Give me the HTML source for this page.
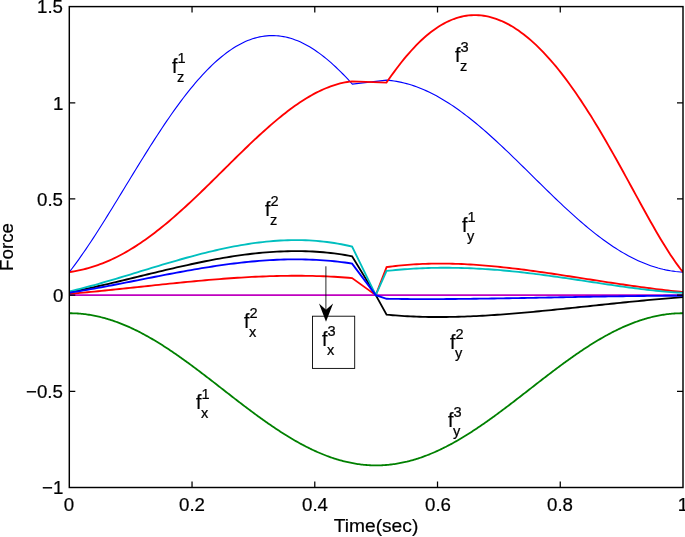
<!DOCTYPE html>
<html><head><meta charset="utf-8"><style>
html,body{margin:0;padding:0;background:#fff}
body{width:685px;height:537px;position:relative;overflow:hidden;font-family:"Liberation Sans",sans-serif;color:#000}
.t,.l{will-change:transform;-webkit-text-stroke:0.22px #000}
.t{position:absolute;font-size:18.7px;line-height:20px;white-space:nowrap}
.t.x{width:60px;text-align:center}
.l{position:absolute;font-size:19.6px;line-height:24px;white-space:nowrap;height:24px}
.l span{position:absolute;font-size:14.6px;line-height:24px;left:5.6px}
.l .p{top:-7.9px}
.l .b{top:11.0px;left:5.1px}
</style></head><body>
<svg width="685" height="537" viewBox="0 0 685 537" style="position:absolute;left:0;top:0">
<defs><clipPath id="c"><rect x="69.3" y="6.6" width="613.7" height="480.9"/></clipPath></defs>
<g clip-path="url(#c)" fill="none" stroke-linejoin="miter" stroke-miterlimit="3">
<path d="M69.30,313.22 L70.53,313.23 L71.75,313.25 L72.98,313.28 L74.21,313.32 L75.44,313.37 L76.66,313.44 L77.89,313.52 L79.12,313.61 L80.35,313.71 L81.57,313.82 L82.80,313.95 L84.03,314.09 L85.26,314.23 L86.48,314.40 L87.71,314.57 L88.94,314.75 L90.17,314.95 L91.39,315.16 L92.62,315.38 L93.85,315.61 L95.08,315.86 L96.30,316.11 L97.53,316.38 L98.76,316.66 L99.98,316.95 L101.21,317.25 L102.44,317.56 L103.67,317.88 L104.89,318.22 L106.12,318.56 L107.35,318.92 L108.58,319.29 L109.80,319.67 L111.03,320.06 L112.26,320.46 L113.49,320.87 L114.71,321.30 L115.94,321.73 L117.17,322.18 L118.40,322.63 L119.62,323.10 L120.85,323.57 L122.08,324.06 L123.31,324.56 L124.53,325.07 L125.76,325.58 L126.99,326.11 L128.22,326.65 L129.44,327.19 L130.67,327.75 L131.90,328.32 L133.12,328.89 L134.35,329.48 L135.58,330.08 L136.81,330.68 L138.03,331.29 L139.26,331.92 L140.49,332.55 L141.72,333.19 L142.94,333.84 L144.17,334.50 L145.40,335.17 L146.63,335.84 L147.85,336.53 L149.08,337.22 L150.31,337.92 L151.54,338.63 L152.76,339.35 L153.99,340.07 L155.22,340.81 L156.45,341.55 L157.67,342.29 L158.90,343.05 L160.13,343.81 L161.36,344.58 L162.58,345.36 L163.81,346.14 L165.04,346.93 L166.26,347.73 L167.49,348.54 L168.72,349.35 L169.95,350.16 L171.17,350.99 L172.40,351.81 L173.63,352.65 L174.86,353.49 L176.08,354.34 L177.31,355.19 L178.54,356.05 L179.77,356.91 L180.99,357.78 L182.22,358.65 L183.45,359.53 L184.68,360.41 L185.90,361.29 L187.13,362.18 L188.36,363.08 L189.59,363.98 L190.81,364.88 L192.04,365.79 L193.27,366.70 L194.49,367.62 L195.72,368.53 L196.95,369.46 L198.18,370.38 L199.40,371.31 L200.63,372.24 L201.86,373.17 L203.09,374.11 L204.31,375.04 L205.54,375.98 L206.77,376.93 L208.00,377.87 L209.22,378.82 L210.45,379.77 L211.68,380.71 L212.91,381.66 L214.13,382.62 L215.36,383.57 L216.59,384.52 L217.82,385.48 L219.04,386.43 L220.27,387.39 L221.50,388.34 L222.73,389.30 L223.95,390.26 L225.18,391.21 L226.41,392.17 L227.63,393.12 L228.86,394.08 L230.09,395.03 L231.32,395.98 L232.54,396.94 L233.77,397.89 L235.00,398.84 L236.23,399.78 L237.45,400.73 L238.68,401.67 L239.91,402.62 L241.14,403.56 L242.36,404.49 L243.59,405.43 L244.82,406.36 L246.05,407.29 L247.27,408.22 L248.50,409.14 L249.73,410.07 L250.96,410.98 L252.18,411.90 L253.41,412.81 L254.64,413.72 L255.86,414.62 L257.09,415.52 L258.32,416.42 L259.55,417.31 L260.77,418.19 L262.00,419.08 L263.23,419.95 L264.46,420.83 L265.68,421.69 L266.91,422.56 L268.14,423.41 L269.37,424.26 L270.59,425.11 L271.82,425.95 L273.05,426.79 L274.28,427.62 L275.50,428.44 L276.73,429.25 L277.96,430.07 L279.19,430.87 L280.41,431.67 L281.64,432.46 L282.87,433.24 L284.10,434.02 L285.32,434.79 L286.55,435.55 L287.78,436.31 L289.00,437.05 L290.23,437.79 L291.46,438.53 L292.69,439.25 L293.91,439.97 L295.14,440.68 L296.37,441.38 L297.60,442.07 L298.82,442.76 L300.05,443.43 L301.28,444.10 L302.51,444.76 L303.73,445.41 L304.96,446.05 L306.19,446.68 L307.42,447.31 L308.64,447.92 L309.87,448.52 L311.10,449.12 L312.33,449.71 L313.55,450.28 L314.78,450.85 L316.01,451.41 L317.23,451.95 L318.46,452.49 L319.69,453.02 L320.92,453.54 L322.14,454.04 L323.37,454.54 L324.60,455.03 L325.83,455.50 L327.05,455.97 L328.28,456.42 L329.51,456.87 L330.74,457.30 L331.96,457.73 L333.19,458.14 L334.42,458.54 L335.65,458.93 L336.87,459.31 L338.10,459.68 L339.33,460.04 L340.56,460.38 L341.78,460.72 L343.01,461.04 L344.24,461.35 L345.47,461.66 L346.69,461.94 L347.92,462.22 L349.15,462.49 L350.37,462.74 L351.60,462.99 L352.83,463.22 L354.06,463.44 L355.28,463.65 L356.51,463.85 L357.74,464.03 L358.97,464.20 L360.19,464.37 L361.42,464.52 L362.65,464.65 L363.88,464.78 L365.10,464.89 L366.33,464.99 L367.56,465.08 L368.79,465.16 L370.01,465.23 L371.24,465.28 L372.47,465.32 L373.70,465.35 L374.92,465.37 L376.15,465.38 L377.38,465.37 L378.60,465.35 L379.83,465.32 L381.06,465.28 L382.29,465.23 L383.51,465.16 L384.74,465.08 L385.97,464.99 L387.20,464.89 L388.42,464.78 L389.65,464.65 L390.88,464.52 L392.11,464.37 L393.33,464.20 L394.56,464.03 L395.79,463.85 L397.02,463.65 L398.24,463.44 L399.47,463.22 L400.70,462.99 L401.93,462.74 L403.15,462.49 L404.38,462.22 L405.61,461.94 L406.84,461.66 L408.06,461.35 L409.29,461.04 L410.52,460.72 L411.74,460.38 L412.97,460.04 L414.20,459.68 L415.43,459.31 L416.65,458.93 L417.88,458.54 L419.11,458.14 L420.34,457.73 L421.56,457.30 L422.79,456.87 L424.02,456.42 L425.25,455.97 L426.47,455.50 L427.70,455.03 L428.93,454.54 L430.16,454.04 L431.38,453.54 L432.61,453.02 L433.84,452.49 L435.07,451.95 L436.29,451.41 L437.52,450.85 L438.75,450.28 L439.97,449.71 L441.20,449.12 L442.43,448.52 L443.66,447.92 L444.88,447.31 L446.11,446.68 L447.34,446.05 L448.57,445.41 L449.79,444.76 L451.02,444.10 L452.25,443.43 L453.48,442.76 L454.70,442.07 L455.93,441.38 L457.16,440.68 L458.39,439.97 L459.61,439.25 L460.84,438.53 L462.07,437.79 L463.30,437.05 L464.52,436.31 L465.75,435.55 L466.98,434.79 L468.21,434.02 L469.43,433.24 L470.66,432.46 L471.89,431.67 L473.11,430.87 L474.34,430.07 L475.57,429.25 L476.80,428.44 L478.02,427.62 L479.25,426.79 L480.48,425.95 L481.71,425.11 L482.93,424.26 L484.16,423.41 L485.39,422.56 L486.62,421.69 L487.84,420.83 L489.07,419.95 L490.30,419.08 L491.53,418.19 L492.75,417.31 L493.98,416.42 L495.21,415.52 L496.44,414.62 L497.66,413.72 L498.89,412.81 L500.12,411.90 L501.34,410.98 L502.57,410.07 L503.80,409.14 L505.03,408.22 L506.25,407.29 L507.48,406.36 L508.71,405.43 L509.94,404.49 L511.16,403.56 L512.39,402.62 L513.62,401.67 L514.85,400.73 L516.07,399.78 L517.30,398.84 L518.53,397.89 L519.76,396.94 L520.98,395.98 L522.21,395.03 L523.44,394.08 L524.67,393.12 L525.89,392.17 L527.12,391.21 L528.35,390.26 L529.58,389.30 L530.80,388.34 L532.03,387.39 L533.26,386.43 L534.48,385.48 L535.71,384.52 L536.94,383.57 L538.17,382.62 L539.39,381.66 L540.62,380.71 L541.85,379.77 L543.08,378.82 L544.30,377.87 L545.53,376.93 L546.76,375.98 L547.99,375.04 L549.21,374.11 L550.44,373.17 L551.67,372.24 L552.90,371.31 L554.12,370.38 L555.35,369.46 L556.58,368.53 L557.81,367.62 L559.03,366.70 L560.26,365.79 L561.49,364.88 L562.71,363.98 L563.94,363.08 L565.17,362.18 L566.40,361.29 L567.62,360.41 L568.85,359.53 L570.08,358.65 L571.31,357.78 L572.53,356.91 L573.76,356.05 L574.99,355.19 L576.22,354.34 L577.44,353.49 L578.67,352.65 L579.90,351.81 L581.13,350.99 L582.35,350.16 L583.58,349.35 L584.81,348.54 L586.04,347.73 L587.26,346.93 L588.49,346.14 L589.72,345.36 L590.94,344.58 L592.17,343.81 L593.40,343.05 L594.63,342.29 L595.85,341.55 L597.08,340.81 L598.31,340.07 L599.54,339.35 L600.76,338.63 L601.99,337.92 L603.22,337.22 L604.45,336.53 L605.67,335.84 L606.90,335.17 L608.13,334.50 L609.36,333.84 L610.58,333.19 L611.81,332.55 L613.04,331.92 L614.27,331.29 L615.49,330.68 L616.72,330.08 L617.95,329.48 L619.18,328.89 L620.40,328.32 L621.63,327.75 L622.86,327.19 L624.08,326.65 L625.31,326.11 L626.54,325.58 L627.77,325.07 L628.99,324.56 L630.22,324.06 L631.45,323.57 L632.68,323.10 L633.90,322.63 L635.13,322.18 L636.36,321.73 L637.59,321.30 L638.81,320.87 L640.04,320.46 L641.27,320.06 L642.50,319.67 L643.72,319.29 L644.95,318.92 L646.18,318.56 L647.41,318.22 L648.63,317.88 L649.86,317.56 L651.09,317.25 L652.32,316.95 L653.54,316.66 L654.77,316.38 L656.00,316.11 L657.22,315.86 L658.45,315.61 L659.68,315.38 L660.91,315.16 L662.13,314.95 L663.36,314.75 L664.59,314.57 L665.82,314.40 L667.04,314.23 L668.27,314.09 L669.50,313.95 L670.73,313.82 L671.95,313.71 L673.18,313.61 L674.41,313.52 L675.64,313.44 L676.86,313.37 L678.09,313.32 L679.32,313.28 L680.55,313.25 L681.77,313.23 L683.00,313.22" stroke="#008000" stroke-width="1.8"/>
<path d="M69.30,293.85 L72.88,293.55 L76.46,293.24 L80.04,292.92 L83.62,292.60 L87.20,292.26 L90.78,291.92 L94.36,291.58 L97.94,291.23 L101.52,290.87 L105.10,290.51 L108.68,290.14 L112.26,289.77 L115.84,289.40 L119.42,289.02 L122.99,288.64 L126.57,288.26 L130.15,287.88 L133.73,287.49 L137.31,287.11 L140.89,286.72 L144.47,286.34 L148.05,285.96 L151.63,285.57 L155.21,285.19 L158.79,284.81 L162.37,284.43 L165.95,284.06 L169.53,283.69 L173.11,283.32 L176.69,282.96 L180.27,282.60 L183.85,282.24 L187.43,281.89 L191.01,281.55 L194.59,281.21 L198.17,280.88 L201.75,280.55 L205.33,280.24 L208.91,279.93 L212.49,279.63 L216.07,279.33 L219.65,279.05 L223.23,278.77 L226.80,278.51 L230.38,278.25 L233.96,278.00 L237.54,277.77 L241.12,277.55 L244.70,277.33 L248.28,277.13 L251.86,276.95 L255.44,276.77 L259.02,276.61 L262.60,276.46 L266.18,276.32 L269.76,276.20 L273.34,276.09 L276.92,276.00 L280.50,275.92 L284.08,275.86 L287.66,275.81 L291.24,275.78 L294.82,275.77 L298.40,275.77 L301.98,275.79 L305.56,275.83 L309.14,275.88 L312.72,275.95 L316.30,276.05 L319.88,276.16 L323.46,276.29 L327.04,276.43 L330.62,276.60 L334.19,276.79 L337.77,277.00 L341.35,277.23 L344.93,277.48 L348.51,277.75 L352.09,278.04 L375.78,295.14 L386.58,267.19 L389.58,266.77 L392.57,266.39 L395.57,266.02 L398.56,265.69 L401.55,265.38 L404.55,265.10 L407.54,264.84 L410.54,264.61 L413.53,264.41 L416.52,264.22 L419.52,264.06 L422.51,263.93 L425.51,263.81 L428.50,263.72 L431.49,263.65 L434.49,263.60 L437.48,263.58 L440.48,263.57 L443.47,263.58 L446.47,263.61 L449.46,263.66 L452.45,263.73 L455.45,263.82 L458.44,263.92 L461.44,264.04 L464.43,264.18 L467.42,264.34 L470.42,264.51 L473.41,264.69 L476.41,264.89 L479.40,265.11 L482.39,265.34 L485.39,265.58 L488.38,265.84 L491.38,266.11 L494.37,266.39 L497.37,266.68 L500.36,266.99 L503.35,267.30 L506.35,267.63 L509.34,267.97 L512.34,268.31 L515.33,268.67 L518.32,269.04 L521.32,269.41 L524.31,269.79 L527.31,270.18 L530.30,270.58 L533.29,270.99 L536.29,271.40 L539.28,271.82 L542.28,272.24 L545.27,272.67 L548.26,273.10 L551.26,273.54 L554.25,273.99 L557.25,274.43 L560.24,274.89 L563.24,275.34 L566.23,275.80 L569.22,276.26 L572.22,276.72 L575.21,277.18 L578.21,277.65 L581.20,278.11 L584.19,278.58 L587.19,279.05 L590.18,279.51 L593.18,279.98 L596.17,280.45 L599.16,280.91 L602.16,281.37 L605.15,281.83 L608.15,282.29 L611.14,282.75 L614.14,283.20 L617.13,283.65 L620.12,284.10 L623.12,284.54 L626.11,284.98 L629.11,285.41 L632.10,285.84 L635.09,286.26 L638.09,286.68 L641.08,287.09 L644.08,287.50 L647.07,287.90 L650.06,288.29 L653.06,288.68 L656.05,289.05 L659.05,289.42 L662.04,289.79 L665.04,290.14 L668.03,290.48 L671.02,290.82 L674.02,291.14 L677.01,291.46 L680.01,291.77 L683.00,292.06" stroke="#ff0000" stroke-width="1.85"/>
<path d="M69.30,272.06 L71.68,268.97 L74.06,265.82 L76.44,262.59 L78.82,259.30 L81.19,255.94 L83.57,252.53 L85.95,249.06 L88.33,245.54 L90.71,241.97 L93.09,238.35 L95.47,234.69 L97.85,231.00 L100.23,227.27 L102.61,223.51 L104.98,219.72 L107.36,215.90 L109.74,212.06 L112.12,208.20 L114.50,204.33 L116.88,200.44 L119.26,196.55 L121.64,192.64 L124.02,188.74 L126.40,184.83 L128.77,180.92 L131.15,177.02 L133.53,173.13 L135.91,169.25 L138.29,165.38 L140.67,161.52 L143.05,157.69 L145.43,153.87 L147.81,150.08 L150.19,146.32 L152.56,142.58 L154.94,138.88 L157.32,135.21 L159.70,131.58 L162.08,127.99 L164.46,124.43 L166.84,120.92 L169.22,117.46 L171.60,114.04 L173.98,110.68 L176.35,107.36 L178.73,104.10 L181.11,100.90 L183.49,97.75 L185.87,94.67 L188.25,91.64 L190.63,88.68 L193.01,85.79 L195.39,82.96 L197.77,80.20 L200.14,77.51 L202.52,74.89 L204.90,72.35 L207.28,69.88 L209.66,67.49 L212.04,65.18 L214.42,62.94 L216.80,60.79 L219.18,58.72 L221.56,56.73 L223.93,54.82 L226.31,53.00 L228.69,51.27 L231.07,49.62 L233.45,48.06 L235.83,46.59 L238.21,45.21 L240.59,43.92 L242.97,42.72 L245.35,41.61 L247.72,40.59 L250.10,39.67 L252.48,38.84 L254.86,38.10 L257.24,37.46 L259.62,36.91 L262.00,36.45 L264.38,36.09 L266.76,35.82 L269.14,35.65 L271.51,35.57 L273.89,35.58 L276.27,35.69 L278.65,35.90 L281.03,36.19 L283.41,36.58 L285.79,37.06 L288.17,37.64 L290.55,38.30 L292.93,39.06 L295.30,39.90 L297.68,40.84 L300.06,41.86 L302.44,42.97 L304.82,44.17 L307.20,45.45 L309.58,46.82 L311.96,48.27 L314.34,49.80 L316.71,51.42 L319.09,53.11 L321.47,54.88 L323.85,56.72 L326.23,58.64 L328.61,60.63 L330.99,62.70 L333.37,64.83 L335.75,67.03 L338.13,69.29 L340.50,71.62 L342.88,74.01 L345.26,76.45 L347.64,78.96 L350.02,81.51 L352.40,84.12 L386.58,80.08 L389.07,80.32 L391.56,80.61 L394.06,80.96 L396.55,81.37 L399.04,81.84 L401.53,82.37 L404.02,82.96 L406.51,83.61 L409.00,84.32 L411.49,85.08 L413.98,85.90 L416.47,86.79 L418.96,87.72 L421.46,88.72 L423.95,89.77 L426.44,90.88 L428.93,92.04 L431.42,93.26 L433.91,94.53 L436.40,95.86 L438.89,97.24 L441.38,98.67 L443.87,100.15 L446.36,101.68 L448.86,103.26 L451.35,104.88 L453.84,106.56 L456.33,108.28 L458.82,110.04 L461.31,111.85 L463.80,113.70 L466.29,115.59 L468.78,117.52 L471.27,119.49 L473.76,121.50 L476.26,123.54 L478.75,125.62 L481.24,127.73 L483.73,129.87 L486.22,132.04 L488.71,134.24 L491.20,136.47 L493.69,138.73 L496.18,141.01 L498.67,143.31 L501.16,145.64 L503.66,147.98 L506.15,150.34 L508.64,152.72 L511.13,155.12 L513.62,157.53 L516.11,159.95 L518.60,162.38 L521.09,164.82 L523.58,167.26 L526.07,169.72 L528.56,172.17 L531.06,174.63 L533.55,177.09 L536.04,179.55 L538.53,182.00 L541.02,184.45 L543.51,186.90 L546.00,189.34 L548.49,191.76 L550.98,194.18 L553.47,196.59 L555.96,198.98 L558.46,201.35 L560.95,203.71 L563.44,206.05 L565.93,208.37 L568.42,210.67 L570.91,212.94 L573.40,215.19 L575.89,217.41 L578.38,219.61 L580.87,221.78 L583.36,223.91 L585.85,226.02 L588.35,228.09 L590.84,230.12 L593.33,232.12 L595.82,234.09 L598.31,236.01 L600.80,237.90 L603.29,239.74 L605.78,241.54 L608.27,243.30 L610.76,245.02 L613.25,246.68 L615.75,248.31 L618.24,249.88 L620.73,251.41 L623.22,252.89 L625.71,254.32 L628.20,255.69 L630.69,257.02 L633.18,258.29 L635.67,259.51 L638.16,260.68 L640.65,261.79 L643.15,262.85 L645.64,263.85 L648.13,264.80 L650.62,265.69 L653.11,266.52 L655.60,267.30 L658.09,268.02 L660.58,268.68 L663.07,269.29 L665.56,269.84 L668.05,270.33 L670.55,270.77 L673.04,271.14 L675.53,271.47 L678.02,271.73 L680.51,271.94 L683.00,272.10" stroke="#0000ff" stroke-width="1.12"/>
<path d="M69.30,295.14 L683.00,295.14" stroke="#bf00bf" stroke-width="1.8"/>
<path d="M69.30,292.22 L72.88,291.53 L76.46,290.82 L80.04,290.10 L83.62,289.36 L87.20,288.60 L90.78,287.83 L94.36,287.04 L97.94,286.24 L101.52,285.43 L105.10,284.61 L108.68,283.78 L112.26,282.94 L115.84,282.09 L119.42,281.23 L122.99,280.37 L126.57,279.50 L130.15,278.63 L133.73,277.76 L137.31,276.89 L140.89,276.01 L144.47,275.14 L148.05,274.27 L151.63,273.40 L155.21,272.53 L158.79,271.67 L162.37,270.81 L165.95,269.96 L169.53,269.11 L173.11,268.28 L176.69,267.45 L180.27,266.63 L183.85,265.83 L187.43,265.03 L191.01,264.25 L194.59,263.48 L198.17,262.73 L201.75,261.99 L205.33,261.27 L208.91,260.57 L212.49,259.88 L216.07,259.21 L219.65,258.57 L223.23,257.94 L226.80,257.34 L230.38,256.75 L233.96,256.20 L237.54,255.66 L241.12,255.15 L244.70,254.67 L248.28,254.22 L251.86,253.79 L255.44,253.39 L259.02,253.02 L262.60,252.68 L266.18,252.37 L269.76,252.09 L273.34,251.85 L276.92,251.64 L280.50,251.46 L284.08,251.32 L287.66,251.21 L291.24,251.14 L294.82,251.11 L298.40,251.12 L301.98,251.16 L305.56,251.25 L309.14,251.37 L312.72,251.54 L316.30,251.74 L319.88,251.99 L323.46,252.29 L327.04,252.63 L330.62,253.01 L334.19,253.44 L337.77,253.91 L341.35,254.43 L344.93,255.00 L348.51,255.62 L352.09,256.28 L375.78,295.14 L386.58,314.66 L389.58,314.95 L392.57,315.21 L395.57,315.45 L398.56,315.68 L401.55,315.88 L404.55,316.07 L407.54,316.24 L410.54,316.40 L413.53,316.53 L416.52,316.65 L419.52,316.75 L422.51,316.84 L425.51,316.91 L428.50,316.96 L431.49,317.00 L434.49,317.03 L437.48,317.04 L440.48,317.04 L443.47,317.02 L446.47,316.99 L449.46,316.95 L452.45,316.90 L455.45,316.83 L458.44,316.75 L461.44,316.66 L464.43,316.56 L467.42,316.45 L470.42,316.32 L473.41,316.19 L476.41,316.05 L479.40,315.89 L482.39,315.73 L485.39,315.56 L488.38,315.38 L491.38,315.19 L494.37,314.99 L497.37,314.79 L500.36,314.57 L503.35,314.35 L506.35,314.13 L509.34,313.89 L512.34,313.65 L515.33,313.41 L518.32,313.15 L521.32,312.89 L524.31,312.63 L527.31,312.36 L530.30,312.09 L533.29,311.81 L536.29,311.53 L539.28,311.24 L542.28,310.95 L545.27,310.66 L548.26,310.36 L551.26,310.06 L554.25,309.76 L557.25,309.45 L560.24,309.15 L563.24,308.84 L566.23,308.52 L569.22,308.21 L572.22,307.90 L575.21,307.58 L578.21,307.26 L581.20,306.95 L584.19,306.63 L587.19,306.31 L590.18,305.99 L593.18,305.67 L596.17,305.35 L599.16,305.04 L602.16,304.72 L605.15,304.41 L608.15,304.09 L611.14,303.78 L614.14,303.47 L617.13,303.16 L620.12,302.85 L623.12,302.54 L626.11,302.24 L629.11,301.94 L632.10,301.64 L635.09,301.35 L638.09,301.05 L641.08,300.76 L644.08,300.48 L647.07,300.20 L650.06,299.92 L653.06,299.64 L656.05,299.37 L659.05,299.11 L662.04,298.84 L665.04,298.59 L668.03,298.33 L671.02,298.08 L674.02,297.84 L677.01,297.60 L680.01,297.37 L683.00,297.14" stroke="#000000" stroke-width="1.85"/>
<path d="M69.30,291.49 L72.88,290.63 L76.46,289.75 L80.04,288.84 L83.62,287.91 L87.20,286.97 L90.78,286.00 L94.36,285.02 L97.94,284.02 L101.52,283.00 L105.10,281.98 L108.68,280.94 L112.26,279.88 L115.84,278.82 L119.42,277.75 L122.99,276.68 L126.57,275.60 L130.15,274.51 L133.73,273.42 L137.31,272.33 L140.89,271.23 L144.47,270.14 L148.05,269.05 L151.63,267.96 L155.21,266.88 L158.79,265.80 L162.37,264.73 L165.95,263.66 L169.53,262.61 L173.11,261.56 L176.69,260.53 L180.27,259.51 L183.85,258.50 L187.43,257.50 L191.01,256.53 L194.59,255.57 L198.17,254.63 L201.75,253.70 L205.33,252.80 L208.91,251.92 L212.49,251.06 L216.07,250.23 L219.65,249.42 L223.23,248.64 L226.80,247.89 L230.38,247.16 L233.96,246.46 L237.54,245.79 L241.12,245.16 L244.70,244.55 L248.28,243.99 L251.86,243.45 L255.44,242.95 L259.02,242.49 L262.60,242.06 L266.18,241.68 L269.76,241.33 L273.34,241.03 L276.92,240.76 L280.50,240.54 L284.08,240.36 L287.66,240.23 L291.24,240.14 L294.82,240.10 L298.40,240.11 L301.98,240.17 L305.56,240.27 L309.14,240.43 L312.72,240.64 L316.30,240.90 L319.88,241.21 L323.46,241.58 L327.04,242.00 L330.62,242.48 L334.19,243.01 L337.77,243.60 L341.35,244.25 L344.93,244.97 L348.51,245.74 L352.09,246.57 L375.78,295.14 L386.58,270.90 L389.58,270.59 L392.57,270.30 L395.57,270.02 L398.56,269.76 L401.55,269.51 L404.55,269.28 L407.54,269.07 L410.54,268.87 L413.53,268.69 L416.52,268.52 L419.52,268.38 L422.51,268.24 L425.51,268.13 L428.50,268.03 L431.49,267.94 L434.49,267.88 L437.48,267.82 L440.48,267.79 L443.47,267.77 L446.47,267.76 L449.46,267.78 L452.45,267.80 L455.45,267.84 L458.44,267.90 L461.44,267.97 L464.43,268.06 L467.42,268.16 L470.42,268.28 L473.41,268.41 L476.41,268.55 L479.40,268.71 L482.39,268.88 L485.39,269.07 L488.38,269.27 L491.38,269.48 L494.37,269.71 L497.37,269.95 L500.36,270.20 L503.35,270.46 L506.35,270.73 L509.34,271.02 L512.34,271.32 L515.33,271.62 L518.32,271.94 L521.32,272.27 L524.31,272.61 L527.31,272.96 L530.30,273.32 L533.29,273.68 L536.29,274.06 L539.28,274.44 L542.28,274.83 L545.27,275.23 L548.26,275.64 L551.26,276.05 L554.25,276.47 L557.25,276.89 L560.24,277.32 L563.24,277.75 L566.23,278.19 L569.22,278.63 L572.22,279.08 L575.21,279.53 L578.21,279.98 L581.20,280.43 L584.19,280.89 L587.19,281.34 L590.18,281.80 L593.18,282.25 L596.17,282.71 L599.16,283.16 L602.16,283.61 L605.15,284.06 L608.15,284.51 L611.14,284.95 L614.14,285.39 L617.13,285.82 L620.12,286.25 L623.12,286.68 L626.11,287.09 L629.11,287.50 L632.10,287.90 L635.09,288.29 L638.09,288.68 L641.08,289.05 L644.08,289.41 L647.07,289.76 L650.06,290.10 L653.06,290.43 L656.05,290.74 L659.05,291.04 L662.04,291.33 L665.04,291.59 L668.03,291.85 L671.02,292.08 L674.02,292.30 L677.01,292.50 L680.01,292.67 L683.00,292.83" stroke="#00bfbf" stroke-width="1.85"/>
<path d="M69.30,292.76 L72.88,292.21 L76.46,291.63 L80.04,291.05 L83.62,290.44 L87.20,289.83 L90.78,289.20 L94.36,288.56 L97.94,287.91 L101.52,287.25 L105.10,286.58 L108.68,285.91 L112.26,285.22 L115.84,284.53 L119.42,283.84 L122.99,283.14 L126.57,282.44 L130.15,281.73 L133.73,281.02 L137.31,280.31 L140.89,279.60 L144.47,278.89 L148.05,278.18 L151.63,277.47 L155.21,276.77 L158.79,276.07 L162.37,275.37 L165.95,274.68 L169.53,273.99 L173.11,273.31 L176.69,272.64 L180.27,271.98 L183.85,271.32 L187.43,270.68 L191.01,270.04 L194.59,269.42 L198.17,268.81 L201.75,268.21 L205.33,267.62 L208.91,267.05 L212.49,266.49 L216.07,265.95 L219.65,265.42 L223.23,264.92 L226.80,264.42 L230.38,263.95 L233.96,263.50 L237.54,263.06 L241.12,262.65 L244.70,262.26 L248.28,261.89 L251.86,261.54 L255.44,261.22 L259.02,260.92 L262.60,260.64 L266.18,260.39 L269.76,260.16 L273.34,259.97 L276.92,259.79 L280.50,259.65 L284.08,259.54 L287.66,259.45 L291.24,259.39 L294.82,259.37 L298.40,259.37 L301.98,259.41 L305.56,259.48 L309.14,259.58 L312.72,259.71 L316.30,259.88 L319.88,260.08 L323.46,260.32 L327.04,260.60 L330.62,260.91 L334.19,261.26 L337.77,261.64 L341.35,262.06 L344.93,262.53 L348.51,263.03 L352.09,263.57 L375.78,295.14 L386.58,298.79 L389.58,298.84 L392.57,298.88 L395.57,298.92 L398.56,298.95 L401.55,298.98 L404.55,299.01 L407.54,299.03 L410.54,299.05 L413.53,299.06 L416.52,299.08 L419.52,299.08 L422.51,299.09 L425.51,299.09 L428.50,299.09 L431.49,299.09 L434.49,299.08 L437.48,299.07 L440.48,299.06 L443.47,299.05 L446.47,299.03 L449.46,299.01 L452.45,298.99 L455.45,298.97 L458.44,298.94 L461.44,298.91 L464.43,298.88 L467.42,298.85 L470.42,298.81 L473.41,298.78 L476.41,298.74 L479.40,298.70 L482.39,298.66 L485.39,298.62 L488.38,298.58 L491.38,298.53 L494.37,298.49 L497.37,298.44 L500.36,298.39 L503.35,298.34 L506.35,298.29 L509.34,298.24 L512.34,298.19 L515.33,298.13 L518.32,298.08 L521.32,298.02 L524.31,297.97 L527.31,297.91 L530.30,297.86 L533.29,297.80 L536.29,297.74 L539.28,297.69 L542.28,297.63 L545.27,297.57 L548.26,297.51 L551.26,297.46 L554.25,297.40 L557.25,297.34 L560.24,297.29 L563.24,297.23 L566.23,297.17 L569.22,297.12 L572.22,297.06 L575.21,297.00 L578.21,296.95 L581.20,296.89 L584.19,296.84 L587.19,296.79 L590.18,296.73 L593.18,296.68 L596.17,296.63 L599.16,296.58 L602.16,296.53 L605.15,296.48 L608.15,296.44 L611.14,296.39 L614.14,296.35 L617.13,296.30 L620.12,296.26 L623.12,296.22 L626.11,296.18 L629.11,296.14 L632.10,296.10 L635.09,296.07 L638.09,296.03 L641.08,296.00 L644.08,295.97 L647.07,295.94 L650.06,295.91 L653.06,295.88 L656.05,295.86 L659.05,295.83 L662.04,295.81 L665.04,295.79 L668.03,295.78 L671.02,295.76 L674.02,295.75 L677.01,295.73 L680.01,295.72 L683.00,295.72" stroke="#0000ff" stroke-width="1.85"/>
<path d="M69.30,272.06 L71.68,271.71 L74.05,271.32 L76.43,270.89 L78.80,270.42 L81.18,269.90 L83.55,269.35 L85.93,268.75 L88.30,268.11 L90.68,267.42 L93.05,266.69 L95.43,265.92 L97.80,265.10 L100.18,264.24 L102.56,263.33 L104.93,262.38 L107.31,261.39 L109.68,260.35 L112.06,259.27 L114.43,258.15 L116.81,256.98 L119.18,255.76 L121.56,254.51 L123.93,253.21 L126.31,251.87 L128.68,250.49 L131.06,249.07 L133.44,247.60 L135.81,246.10 L138.19,244.56 L140.56,242.97 L142.94,241.35 L145.31,239.69 L147.69,237.99 L150.06,236.26 L152.44,234.49 L154.81,232.69 L157.19,230.85 L159.56,228.98 L161.94,227.08 L164.32,225.14 L166.69,223.18 L169.07,221.18 L171.44,219.16 L173.82,217.11 L176.19,215.03 L178.57,212.93 L180.94,210.80 L183.32,208.65 L185.69,206.48 L188.07,204.29 L190.44,202.08 L192.82,199.84 L195.20,197.60 L197.57,195.33 L199.95,193.05 L202.32,190.76 L204.70,188.46 L207.07,186.14 L209.45,183.82 L211.82,181.48 L214.20,179.15 L216.57,176.80 L218.95,174.45 L221.32,172.10 L223.70,169.75 L226.08,167.39 L228.45,165.04 L230.83,162.69 L233.20,160.35 L235.58,158.01 L237.95,155.68 L240.33,153.36 L242.70,151.05 L245.08,148.75 L247.45,146.46 L249.83,144.19 L252.20,141.94 L254.58,139.70 L256.96,137.48 L259.33,135.28 L261.71,133.11 L264.08,130.96 L266.46,128.83 L268.83,126.73 L271.21,124.66 L273.58,122.62 L275.96,120.61 L278.33,118.64 L280.71,116.69 L283.08,114.79 L285.46,112.92 L287.83,111.09 L290.21,109.30 L292.59,107.55 L294.96,105.84 L297.34,104.18 L299.71,102.57 L302.09,101.00 L304.46,99.48 L306.84,98.01 L309.21,96.60 L311.59,95.23 L313.96,93.92 L316.34,92.67 L318.71,91.47 L321.09,90.33 L323.47,89.25 L325.84,88.23 L328.22,87.28 L330.59,86.38 L332.97,85.55 L335.34,84.79 L337.72,84.10 L340.09,83.47 L342.47,82.91 L344.84,82.42 L347.22,82.00 L349.59,81.66 L351.97,81.39 L386.46,82.64 L388.95,79.05 L391.44,75.54 L393.94,72.10 L396.43,68.74 L398.92,65.47 L401.41,62.29 L403.90,59.20 L406.40,56.20 L408.89,53.30 L411.38,50.49 L413.87,47.79 L416.36,45.18 L418.86,42.68 L421.35,40.28 L423.84,37.99 L426.33,35.81 L428.82,33.73 L431.31,31.77 L433.81,29.91 L436.30,28.16 L438.79,26.52 L441.28,24.99 L443.77,23.58 L446.27,22.27 L448.76,21.07 L451.25,19.99 L453.74,19.01 L456.23,18.14 L458.73,17.39 L461.22,16.74 L463.71,16.20 L466.20,15.77 L468.69,15.45 L471.19,15.24 L473.68,15.13 L476.17,15.13 L478.66,15.23 L481.15,15.44 L483.65,15.75 L486.14,16.17 L488.63,16.69 L491.12,17.30 L493.61,18.03 L496.11,18.85 L498.60,19.77 L501.09,20.78 L503.58,21.90 L506.07,23.11 L508.56,24.42 L511.06,25.83 L513.55,27.33 L516.04,28.92 L518.53,30.60 L521.02,32.38 L523.52,34.25 L526.01,36.21 L528.50,38.26 L530.99,40.39 L533.48,42.62 L535.98,44.93 L538.47,47.33 L540.96,49.81 L543.45,52.38 L545.94,55.03 L548.44,57.76 L550.93,60.58 L553.42,63.48 L555.91,66.45 L558.40,69.51 L560.90,72.64 L563.39,75.85 L565.88,79.14 L568.37,82.50 L570.86,85.93 L573.36,89.43 L575.85,93.01 L578.34,96.65 L580.83,100.36 L583.32,104.14 L585.81,107.98 L588.31,111.89 L590.80,115.85 L593.29,119.87 L595.78,123.95 L598.27,128.09 L600.77,132.27 L603.26,136.51 L605.75,140.79 L608.24,145.12 L610.73,149.48 L613.23,153.89 L615.72,158.32 L618.21,162.79 L620.70,167.29 L623.19,171.81 L625.69,176.35 L628.18,180.90 L630.67,185.47 L633.16,190.03 L635.65,194.60 L638.15,199.16 L640.64,203.71 L643.13,208.25 L645.62,212.76 L648.11,217.24 L650.60,221.68 L653.10,226.07 L655.59,230.42 L658.08,234.70 L660.57,238.91 L663.06,243.05 L665.56,247.10 L668.05,251.05 L670.54,254.89 L673.03,258.61 L675.52,262.21 L678.02,265.66 L680.51,268.96 L683.00,272.10" stroke="#ff0000" stroke-width="1.85"/>
</g>
<rect x="69.3" y="6.6" width="613.7" height="480.9" fill="none" stroke="#000" stroke-width="1.45"/>
<path d="M192.04,487.5 v-6 M192.04,6.6 v6 M314.78,487.5 v-6 M314.78,6.6 v6 M437.52,487.5 v-6 M437.52,6.6 v6 M560.26,487.5 v-6 M560.26,6.6 v6 M69.3,102.78 h6 M683.0,102.78 h-6 M69.3,198.96 h6 M683.0,198.96 h-6 M69.3,295.14 h6 M683.0,295.14 h-6 M69.3,391.32 h6 M683.0,391.32 h-6" stroke="#000" stroke-width="1.25" fill="none"/>
<path d="M325.9,266.3 V312" stroke="#000" stroke-width="0.85" fill="none"/>
<path d="M326,321.8 L319,303.5 L326,309.8 L333.1,303.5 Z" fill="#000"/>
<rect x="312.5" y="316.2" width="42.2" height="52.2" fill="none" stroke="#000" stroke-width="0.9"/>
</svg>
<div class="l" style="left:171.60px;top:53.75px">f<span class="p">1</span><span class="b">z</span></div>
<div class="l" style="left:454.60px;top:42.90px">f<span class="p">3</span><span class="b">z</span></div>
<div class="l" style="left:265.00px;top:197.45px">f<span class="p">2</span><span class="b">z</span></div>
<div class="l" style="left:461.70px;top:213.10px">f<span class="p">1</span><span class="b">y</span></div>
<div class="l" style="left:243.90px;top:308.60px">f<span class="p">2</span><span class="b">x</span></div>
<div class="l" style="left:321.90px;top:326.90px">f<span class="p">3</span><span class="b">x</span></div>
<div class="l" style="left:450.20px;top:329.50px">f<span class="p">2</span><span class="b">y</span></div>
<div class="l" style="left:195.75px;top:390.10px">f<span class="p">1</span><span class="b">x</span></div>
<div class="l" style="left:447.50px;top:408.20px">f<span class="p">3</span><span class="b">y</span></div>
<div class="t" style="right:621.8px;top:-2.5999999999999996px">1.5</div>
<div class="t" style="right:621.8px;top:93.57999999999998px">1</div>
<div class="t" style="right:621.8px;top:189.76px">0.5</div>
<div class="t" style="right:621.8px;top:285.94px">0</div>
<div class="t" style="right:621.8px;top:382.12px">−0.5</div>
<div class="t" style="right:621.8px;top:478.3px">−1</div>
<div class="t x" style="left:39.3px;top:494.8px">0</div>
<div class="t x" style="left:162.04000000000002px;top:494.8px">0.2</div>
<div class="t x" style="left:284.78000000000003px;top:494.8px">0.4</div>
<div class="t x" style="left:407.52000000000004px;top:494.8px">0.6</div>
<div class="t x" style="left:530.26px;top:494.8px">0.8</div>
<div class="t x" style="left:653.0px;top:494.8px">1</div>
<div class="t x" style="left:316px;width:120px;top:515.5px;font-size:19.2px">Time(sec)</div>
<div class="t" style="left:-23px;top:237px;transform:rotate(-90deg);transform-origin:center;width:60px;text-align:center">Force</div>
</body></html>
